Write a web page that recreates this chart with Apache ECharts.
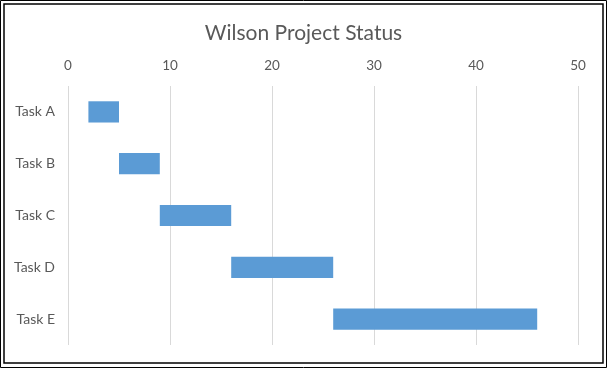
<!DOCTYPE html>
<html><head><meta charset="utf-8">
<script src="https://cdn.jsdelivr.net/npm/echarts@6/dist/echarts.min.js"></script>
<style>html,body{margin:0;padding:0;background:#fff}#c{width:607px;height:368px}</style>
</head><body><div id="c"></div>
<script>
const categories = ["Task A","Task B","Task C","Task D","Task E"];
const startDays = [2, 5, 9, 16, 26];
const durations = [3, 4, 7, 10, 20];
const xTicks = [0, 10, 20, 30, 40, 50];

const chart = echarts.init(document.getElementById('c'), null, {renderer:'canvas'});
const font = 'Lato, "Open Sans", sans-serif';
chart.setOption({
  animation: false,
  backgroundColor: '#fff',
  title: {text: 'Wilson Project Status', left: 'center', top: 18,
    textStyle: {fontFamily: font, fontSize: 21, fontWeight: 'normal', color: '#595959'}},
  grid: {left: 68, right: 29, top: 86, bottom: 23, containLabel: false},
  xAxis: {type: 'value', position: 'top', min: xTicks[0], max: xTicks[xTicks.length-1], interval: 10,
    axisLine: {show: false}, axisTick: {show: false},
    axisLabel: {fontFamily: font, fontSize: 13.5, color: '#595959', margin: 13},
    splitLine: {lineStyle: {color: '#d9d9d9', width: 1}}},
  yAxis: {type: 'category', data: categories, inverse: true,
    axisLine: {show: false}, axisTick: {show: false},
    axisLabel: {fontFamily: font, fontSize: 14, color: '#595959', margin: 13}},
  series: [
    {type: 'bar', stack: 't', data: startDays, itemStyle: {color: 'transparent'}, barWidth: '41%', silent: true},
    {type: 'bar', stack: 't', data: durations, itemStyle: {color: '#5b9bd5'}, barWidth: '41%'}
  ],
  graphic: [
    {type: 'rect', shape: {x: 0.5, y: 0.5, width: 606, height: 367}, style: {fill: 'none', stroke: '#000', lineWidth: 1}, silent: true},
    {type: 'rect', shape: {x: 4, y: 4, width: 599, height: 359}, style: {fill: 'none', stroke: '#000', lineWidth: 1.5}, silent: true}
  ]
});
</script></body></html>
